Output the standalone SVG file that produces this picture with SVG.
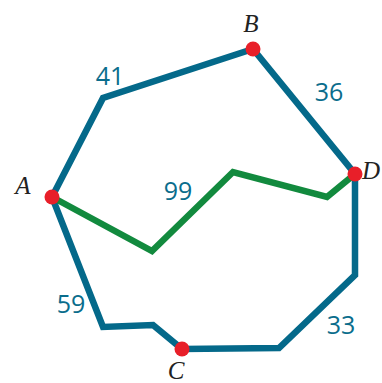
<svg xmlns="http://www.w3.org/2000/svg" width="382" height="383" viewBox="0 0 382 383">
<style>
.blue{fill:none;stroke:#04698a;stroke-width:6.5;stroke-linejoin:miter}
.green{fill:none;stroke:#128a3e;stroke-width:6.5;stroke-linejoin:miter}
.dot{fill:#e81f29}
.num{font-family:"Open Sans","Liberation Sans",sans-serif;font-size:25px;fill:#0a6d8c;text-anchor:middle}
.lbl{font-family:"Liberation Serif",serif;font-style:italic;font-size:25px;fill:#222;text-anchor:middle}
</style>
<rect width="382" height="383" fill="#fff"/>
<g id="connectors">
<path class="blue" d="M52,197 L103,98 L253,49 L355,174 L355,275 L279,348 L182,349 L153,325 L103,327 Z"/>
<path class="green" d="M52,197 L152,251 L233,172 L327,197 L355,174"/>
</g>
<g id="labels">
<text class="num" x="110" y="85">41</text>
<text class="num" x="329" y="101">36</text>
<text class="num" x="178" y="200">99</text>
<text class="num" x="71" y="313">59</text>
<text class="num" x="341" y="334">33</text>
</g>
<g id="A"><circle class="dot" cx="52" cy="197" r="7.5"/><text class="lbl" x="23" y="194">A</text></g>
<g id="B"><circle class="dot" cx="253" cy="49" r="7.5"/><text class="lbl" x="251" y="32">B</text></g>
<g id="D"><circle class="dot" cx="355" cy="174" r="7.5"/><text class="lbl" x="371" y="179">D</text></g>
<g id="C"><circle class="dot" cx="182" cy="349" r="7.5"/><text class="lbl" x="176" y="379">C</text></g>
</svg>
